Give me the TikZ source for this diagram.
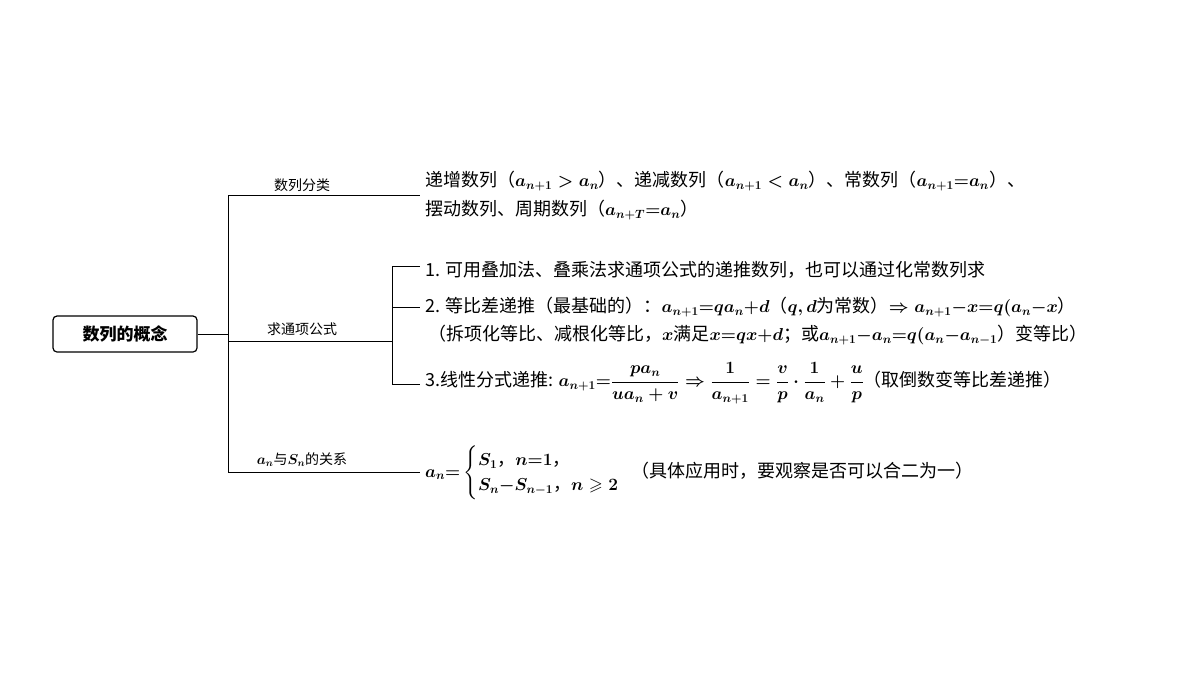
\documentclass[tikz,border=0pt]{standalone}
\usepackage{fontspec}
\usepackage{amsmath,amssymb}
\newfontfamily\cjk{Noto Sans CJK SC}
\begin{document}
\begin{tikzpicture}[x=1pt,y=-1pt,
  ln/.style={line width=0.9pt},
  lab/.style={font=\cjk\fontsize{14}{16}\selectfont\boldmath,inner sep=1pt},
  txt/.style={font=\cjk\fontsize{18}{21}\selectfont\boldmath,anchor=west,inner sep=0pt}]
\useasboundingbox[fill=white] (0,0) rectangle (1200,675);
\node[draw,rounded corners=4pt,line width=1.2pt,minimum width=144pt,minimum height=36pt,font=\cjk\bfseries\fontsize{17}{20}\selectfont] (root) at (125,334) {数列的概念};
\coordinate (t0) at (228,334);
\coordinate (t1) at (228,195);
\coordinate (t3) at (228,472);
\coordinate (e1) at (420,195);
\coordinate (e2) at (392,341);
\coordinate (e3) at (420,472);
\coordinate (b2) at (228,341);
\draw[ln] (root.east) -- (t0);
\draw[ln] (t1) -- (t3);
\draw[ln] (t1) -- (e1);
\draw[ln] (b2) -- (e2);
\draw[ln] (t3) -- (e3);
\node[lab] (l1) at (302,185) {数列分类};
\node[lab] (l2) at (302,329) {求通项公式};
\node[lab] (l3) at (302,460) {$a_n$与$S_n$的关系};
\coordinate (s1) at (392,266);
\coordinate (s3) at (392,384);
\coordinate (f1) at (420,266);
\coordinate (f2) at (420,307);
\coordinate (f3) at (420,384);
\draw[ln] (s1) -- (s3);
\draw[ln] (s1) -- (f1);
\draw[ln] (392,307) -- (f2);
\draw[ln] (s3) -- (f3);
\node[txt] (a1) at (425,181) {递增数列（$a_{n+1}>a_n$）、递减数列（$a_{n+1}<a_n$）、常数列（$a_{n+1}{=}a_n$）、};
\node[txt] (a2) at (425,210) {摆动数列、周期数列（$a_{n+T}{=}a_n$）};
\node[txt] (c1) at (425,270) {1. 可用叠加法、叠乘法求通项公式的递推数列，也可以通过化常数列求};
\node[txt] (c2) at (425,307) {2. 等比差递推（最基础的）：$a_{n+1}{=}qa_n{+}d$（$q,d$为常数）$\Rightarrow a_{n+1}{-}x{=}q(a_n{-}x$）};
\node[txt] (c3) at (428,335) {（拆项化等比、减根化等比，$x$满足$x{=}qx{+}d$；或$a_{n+1}{-}a_n{=}q(a_n{-}a_{n-1}$）变等比）};
\node[txt] (c4) at (425,383) {3.线性分式递推: $a_{n+1}{=}\dfrac{pa_n}{ua_n+v}\Rightarrow\dfrac{1}{a_{n+1}}=\dfrac{v}{p}\cdot\dfrac{1}{a_n}+\dfrac{u}{p}$（取倒数变等比差递推）};
\node[txt] (d1) at (425,473) {$a_n{=}\begin{cases}S_1\text{，}n{=}1\text{，}\\ S_n{-}S_{n-1}\text{，}n\geqslant 2\end{cases}$\hspace{-6pt}（具体应用时，要观察是否可以合二为一）};
\end{tikzpicture}
\end{document}
